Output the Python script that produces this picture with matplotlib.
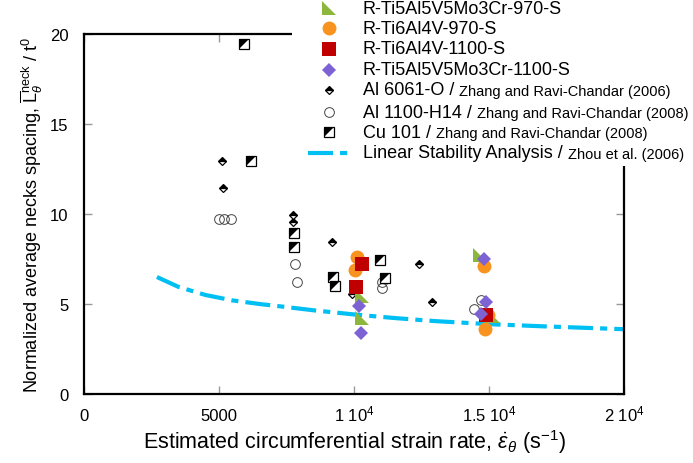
import matplotlib
matplotlib.use("Agg")
import matplotlib.pyplot as plt
from matplotlib.lines import Line2D
from matplotlib.patches import Rectangle

plt.rcParams['font.family'] = ['Liberation Sans', 'DejaVu Sans']
plt.rcParams['mathtext.fontset'] = 'custom'
plt.rcParams['mathtext.rm'] = 'Liberation Sans'
plt.rcParams['mathtext.it'] = 'Liberation Sans:italic'
plt.rcParams['mathtext.bf'] = 'Liberation Sans:bold'

# --- data ---
ti5_970_x = [10280, 10280, 14670, 15150]
ti5_970_y = [5.46, 4.2, 7.7, 4.35]

ti6_970_x = [10110, 10040, 14810, 14850, 14950]
ti6_970_y = [7.6, 6.9, 7.13, 3.6, 4.4]

ti6_1100_x = [10290, 10060, 14890]
ti6_1100_y = [7.22, 5.93, 4.4]

ti5_1100_x = [10190, 10250, 14810, 14900, 14700]
ti5_1100_y = [4.9, 3.4, 7.5, 5.13, 4.44]

al6061_x = [5100, 5150, 7750, 7750, 9200, 9910, 12400, 12900]
al6061_y = [12.95, 11.45, 9.92, 9.55, 8.45, 5.56, 7.2, 5.1]

al1100_x = [5000, 5185, 5440, 7810, 7880, 11020, 11030, 14700, 14460]
al1100_y = [9.7, 9.7, 9.7, 7.2, 6.24, 6.24, 5.87, 5.22, 4.7]

cu101_x = [5930, 6190, 7790, 7790, 9230, 9300, 10960, 11150]
cu101_y = [19.44, 12.93, 8.95, 8.15, 6.48, 6.02, 7.44, 6.44]

lsa_x = [2700, 3500, 4500, 5500, 6500, 7500, 8500, 10000, 11500, 13000, 15000, 17000, 20000]
lsa_y = [6.5, 5.95, 5.5, 5.2, 5.0, 4.83, 4.65, 4.42, 4.22, 4.05, 3.88, 3.76, 3.6]

x_ticks = [0, 5000, 10000, 15000, 20000]
x_tick_labels = ['0', '5000', r'1 10$^4$', r'1.5 10$^4$', r'2 10$^4$']
y_ticks = [0, 5, 10, 15, 20]

green = '#8db73c'
orange = '#f7931e'
red = '#c00000'
purple = '#7d62d3'
cyan = '#00bff3'

tri_ll = [(-1, 1), (-1, -1), (1, -1)]   # right triangle, corner bottom-left
tri_ul = [(-1, -1), (-1, 1), (1, 1)]    # upper-left half of a square

fig = plt.figure(figsize=(6.93, 4.64), dpi=100)
ax = fig.add_axes([84 / 693, 1 - 395 / 464, 540 / 693, 360 / 464])

lsa_dash = (6, 1.7, 1.7, 1.7)
ax.plot(lsa_x, lsa_y, color=cyan, lw=3, dashes=lsa_dash, dash_capstyle='butt', zorder=2)

ax.plot(al6061_x, al6061_y, ls='none', marker='D', ms=4.5, fillstyle='top',
        mfc='black', mfcalt='white', mec='black', mew=0.9, zorder=3)
ax.plot(al1100_x, al1100_y, ls='none', marker='o', ms=7, mfc='none',
        mec='#444444', mew=0.7, zorder=3)
ax.plot(cu101_x, cu101_y, ls='none', marker='s', ms=6.5, mfc='white',
        mec='black', mew=0.9, zorder=3)
ax.plot(cu101_x, cu101_y, ls='none', marker=tri_ul, ms=6.5, mfc='black',
        mec='black', mew=0, zorder=3)

ax.plot(ti5_970_x, ti5_970_y, ls='none', marker=tri_ll, ms=9.5, color=green, mew=0, zorder=4)
ax.plot(ti6_970_x, ti6_970_y, ls='none', marker='o', ms=10, color=orange, mew=0, zorder=4)
ax.plot(ti6_1100_x, ti6_1100_y, ls='none', marker='s', ms=9.5, color=red, mew=0, zorder=5)
ax.plot(ti5_1100_x, ti5_1100_y, ls='none', marker='D', ms=7, color=purple, mew=0, zorder=6)

ax.set_xlim(0, 20000)
ax.set_ylim(0, 20)
ax.set_xticks(x_ticks)
ax.set_xticklabels(x_tick_labels)
ax.set_yticks(y_ticks)
ax.tick_params(direction='in', length=6, width=1, color='#999999', top=True, right=True,
               labelsize=12)
ax.tick_params(axis='x', pad=19)
ax.tick_params(axis='y', pad=11)
for lab in ax.get_xticklabels():
    lab.set_verticalalignment('baseline')
for s in ax.spines.values():
    s.set_linewidth(1.6)

ax.set_xlabel(r'Estimated circumferential strain rate, $\dot{\varepsilon}_{\theta}$ (s$^{-1}$)',
              fontsize=15.5, labelpad=3)
ax.set_ylabel(r'Normalized average necks spacing, $\overline{\mathrm{L}}_{\theta}^{\mathrm{neck}}$ / t$^0$',
              fontsize=13, labelpad=4)

# --- legend, drawn by hand (mixed font sizes) ---
fig.add_artist(Rectangle((292 / 693, 1 - 167 / 464), 1, 1, transform=fig.transFigure,
                         facecolor='white', edgecolor='none', zorder=3))

def fx(px):
    return px / 693

def fy(py):
    return 1 - py / 464

rows = [9, 29, 50, 71, 91, 113, 133, 154]
mx = 329
handles = [
    dict(marker=tri_ll, ms=9.5, color=green, mew=0),
    dict(marker='o', ms=10, color=orange, mew=0),
    dict(marker='s', ms=9.5, color=red, mew=0),
    dict(marker='D', ms=7, color=purple, mew=0),
    dict(marker='D', ms=4.5, fillstyle='top', mfc='black', mfcalt='white', mec='black', mew=0.9),
    dict(marker='o', ms=7, mfc='none', mec='#444444', mew=0.7),
    dict(marker='s', ms=6.5, mfc='white', mec='black', mew=0.9),
]
for h, r in zip(handles, rows):
    fig.add_artist(Line2D([fx(mx)], [fy(r)], ls='none', transform=fig.transFigure, zorder=4, **h))
fig.add_artist(Line2D([fx(mx)], [fy(rows[6])], ls='none', marker=tri_ul, ms=6.5, mfc='black',
                      mec='black', mew=0, transform=fig.transFigure, zorder=5))
fig.add_artist(Line2D([fx(308), fx(353)], [fy(rows[7])] * 2, color=cyan, lw=3, dashes=lsa_dash,
                      dash_capstyle='butt', transform=fig.transFigure, zorder=4))

main_labels = ['R-Ti5Al5V5Mo3Cr-970-S', 'R-Ti6Al4V-970-S', 'R-Ti6Al4V-1100-S',
               'R-Ti5Al5V5Mo3Cr-1100-S', 'Al 6061-O / ', 'Al 1100-H14 / ', 'Cu 101 / ',
               'Linear Stability Analysis / ']
cite_labels = [None, None, None, None, 'Zhang and Ravi-Chandar (2006)',
               'Zhang and Ravi-Chandar (2008)', 'Zhang and Ravi-Chandar (2008)',
               'Zhou et al. (2006)']
txts = []
for lab, r in zip(main_labels, rows):
    txts.append(fig.text(fx(363), fy(r), lab, fontsize=13, va='center', ha='left', zorder=5))
fig.canvas.draw()
rend = fig.canvas.get_renderer()
for t, c, r in zip(txts, cite_labels, rows):
    if c is None:
        continue
    bb = t.get_window_extent(rend)
    fig.text(bb.x1 / fig.bbox.width, fy(r) - 0.002, c, fontsize=10.5, va='center', ha='left', zorder=5)

fig.savefig('out.png', dpi=100)
